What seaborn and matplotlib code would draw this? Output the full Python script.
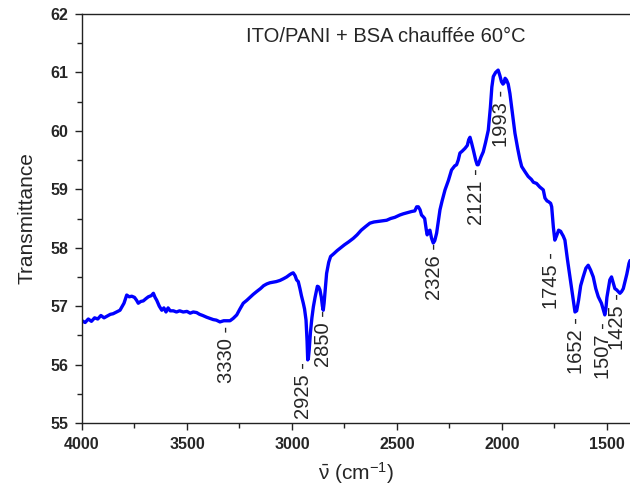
import numpy as np
import pandas as pd
import matplotlib
matplotlib.use("Agg")
import matplotlib.pyplot as plt
import seaborn as sns

# ---- data ----
wavenumber = [4000, 3985, 3970, 3955, 3940, 3925, 3910, 3895, 3880, 3865, 3852, 3835, 3819, 3800,
              3787, 3775, 3763, 3750, 3740, 3732, 3720, 3708, 3695, 3684, 3670, 3660, 3652, 3644,
              3632, 3620, 3610, 3600, 3590, 3580, 3565, 3550, 3535, 3518, 3500, 3485, 3470, 3454,
              3440, 3425, 3406, 3390, 3375, 3360, 3343, 3325, 3310, 3295, 3280, 3263, 3248, 3232,
              3215, 3200, 3185, 3168, 3150, 3135, 3120, 3105, 3090, 3075, 3057, 3040, 3025, 3010,
              3001, 2994, 2985, 2978, 2970, 2962, 2955, 2946, 2940, 2933, 2928, 2925, 2922, 2918,
              2912, 2905, 2898, 2890, 2879, 2873, 2867, 2860, 2855, 2851, 2847, 2840, 2835, 2825,
              2816, 2800, 2785, 2771, 2750, 2730, 2708, 2690, 2670, 2650, 2629, 2610, 2590, 2570,
              2549, 2530, 2510, 2486, 2470, 2450, 2430, 2415, 2406, 2398, 2390, 2383, 2375, 2368,
              2360, 2356, 2350, 2343, 2335, 2327, 2320, 2311, 2303, 2295, 2285, 2271, 2255, 2240,
              2225, 2216, 2208, 2200, 2190, 2176, 2165, 2158, 2152, 2145, 2136, 2125, 2118, 2113,
              2100, 2089, 2078, 2065, 2055, 2048, 2041, 2030, 2018, 2010, 2002, 1995, 1990, 1985,
              1978, 1970, 1962, 1950, 1938, 1925, 1915, 1906, 1890, 1875, 1860, 1850, 1835, 1820,
              1803, 1795, 1785, 1779, 1768, 1763, 1755, 1748, 1740, 1730, 1720, 1716, 1708, 1700,
              1688, 1676, 1668, 1660, 1652, 1644, 1635, 1625, 1613, 1600, 1589, 1578, 1565, 1553,
              1541, 1533, 1526, 1518, 1510, 1505, 1500, 1494, 1486, 1478, 1470, 1462, 1454, 1446,
              1438, 1430, 1422, 1414, 1405, 1395, 1390]
transmittance = [56.75, 56.72, 56.78, 56.74, 56.80, 56.78, 56.84, 56.80, 56.83, 56.86, 56.87, 56.90, 56.93, 57.05,
                 57.19, 57.16, 57.17, 57.15, 57.10, 57.05, 57.08, 57.09, 57.13, 57.16, 57.18, 57.22, 57.15, 57.10,
                 57.00, 56.93, 56.97, 56.90, 56.97, 56.92, 56.92, 56.90, 56.92, 56.90, 56.91, 56.88, 56.90, 56.89,
                 56.86, 56.84, 56.81, 56.79, 56.77, 56.76, 56.73, 56.75, 56.75, 56.75, 56.79, 56.85, 56.95, 57.05,
                 57.10, 57.15, 57.20, 57.25, 57.30, 57.35, 57.38, 57.40, 57.41, 57.42, 57.44, 57.47, 57.50, 57.54,
                 57.56, 57.57, 57.52, 57.45, 57.42, 57.30, 57.18, 57.05, 56.95, 56.76, 56.40, 56.08, 56.10, 56.25,
                 56.55, 56.80, 56.99, 57.15, 57.34, 57.33, 57.28, 57.15, 57.00, 56.93, 57.05, 57.35, 57.56, 57.75,
                 57.85, 57.90, 57.95, 57.99, 58.05, 58.10, 58.16, 58.22, 58.30, 58.36, 58.42, 58.44, 58.45, 58.46,
                 58.47, 58.50, 58.52, 58.56, 58.58, 58.60, 58.62, 58.63, 58.70, 58.70, 58.65, 58.56, 58.53, 58.50,
                 58.30, 58.22, 58.28, 58.30, 58.16, 58.08, 58.12, 58.25, 58.45, 58.65, 58.80, 58.99, 59.15, 59.33,
                 59.40, 59.42, 59.50, 59.62, 59.65, 59.70, 59.75, 59.85, 59.89, 59.80, 59.67, 59.50, 59.42, 59.42,
                 59.55, 59.64, 59.80, 60.01, 60.40, 60.75, 60.93, 61.00, 61.04, 60.95, 60.84, 60.80, 60.82, 60.90,
                 60.87, 60.80, 60.64, 60.30, 59.96, 59.70, 59.52, 59.39, 59.30, 59.22, 59.17, 59.12, 59.10, 59.04,
                 58.99, 58.85, 58.80, 58.79, 58.76, 58.70, 58.35, 58.13, 58.20, 58.30, 58.28, 58.25, 58.20, 58.13,
                 57.80, 57.50, 57.30, 57.10, 56.90, 56.92, 57.10, 57.35, 57.50, 57.65, 57.70, 57.62, 57.50, 57.30,
                 57.16, 57.10, 57.05, 56.95, 56.85, 56.95, 57.15, 57.28, 57.45, 57.50, 57.40, 57.30, 57.28, 57.25,
                 57.22, 57.25, 57.30, 57.42, 57.55, 57.73, 57.78]

peak_labels = ["3330", "2925", "2850", "2326", "2121", "1993", "1745", "1652", "1507", "1425"]

x_ticks = [4000, 3500, 3000, 2500, 2000, 1500]
y_ticks = [55, 56, 57, 58, 59, 60, 61, 62]

title_text = "ITO/PANI + BSA chauffée 60°C"

# ---- layout of the annotation texts (x centre, y of text top) ----
label_x = [3310, 2943, 2848, 2319, 2119, 2000, 1762, 1643, 1514, 1448]
label_top = [56.66, 56.04, 56.93, 58.08, 59.36, 60.70, 57.93, 56.81, 56.73, 57.22]

sns.set_style("ticks")
plt.rcParams["font.family"] = ["Liberation Sans", "DejaVu Sans"]
plt.rcParams["mathtext.fontset"] = "custom"
plt.rcParams["mathtext.rm"] = "Liberation Sans"
plt.rcParams["mathtext.it"] = "Liberation Sans:italic"

W, H = 630, 486
fig = plt.figure(figsize=(W / 100, H / 100), dpi=100)
ax = fig.add_axes([82 / W, 1 - 423 / H, (630 - 82) / W, (423 - 14) / H])

df = pd.DataFrame({"wn": wavenumber, "T": transmittance})
sns.lineplot(data=df, x="wn", y="T", ax=ax, color="#0000FF", linewidth=2.4, sort=False)

ax.set_xlim(4000, 1390)
ax.set_ylim(55, 62)
ax.set_xticks(x_ticks)
ax.set_yticks(y_ticks)
ax.set_xticks(np.arange(3750, 1390, -500), minor=True)
ax.set_yticks(np.arange(55.5, 62, 1.0), minor=True)

spine_c = "#222222"
for s in ["left", "bottom", "top"]:
    ax.spines[s].set_color(spine_c)
    ax.spines[s].set_linewidth(1.0)
ax.spines["right"].set_visible(False)

ax.tick_params(axis="both", which="major", direction="out", length=5, width=1.0,
               color=spine_c, labelsize=11.5, pad=5, top=False, right=False)
ax.tick_params(axis="both", which="minor", direction="out", length=3.5, width=1.0,
               color=spine_c, top=False, right=False)
for lab in ax.get_xticklabels() + ax.get_yticklabels():
    lab.set_fontweight("bold")

ax.set_xlabel(r"$\bar{\mathrm{\nu}}$ (cm$^{-1}$)", fontsize=15, labelpad=6)
ax.set_ylabel("Transmittance", fontsize=15, labelpad=10)

ax.text(2552, 61.61, title_text, fontsize=14.5, ha="center", va="center")

for txt, lx, ly in zip(peak_labels, label_x, label_top):
    ax.text(lx, ly, txt + " -", rotation=90, ha="center", va="top", fontsize=14.5)

fig.savefig("out.png", dpi=100)
